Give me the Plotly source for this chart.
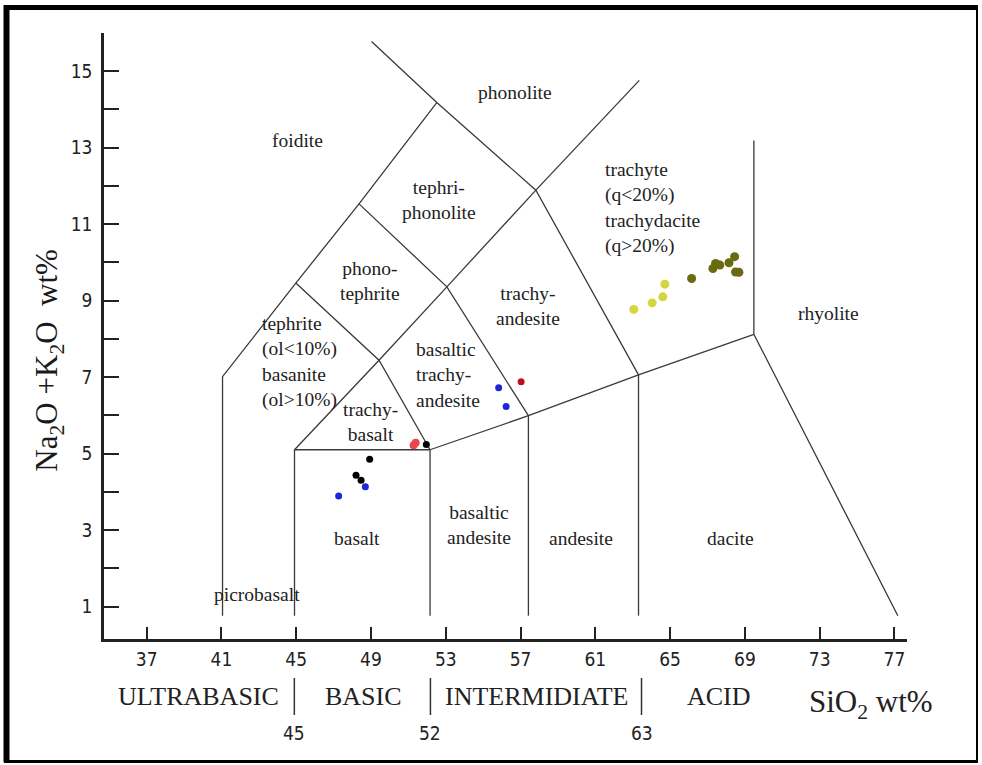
import plotly.graph_objects as go

# ---------------- data ----------------
sio2_black = [51.96, 48.93, 48.20, 48.47]
alk_black = [5.24, 4.85, 4.43, 4.30]
sio2_blue = [55.83, 56.23, 48.70, 47.27]
alk_blue = [6.72, 6.23, 4.13, 3.89]
sio2_red_light = [51.28, 51.39]
alk_red_light = [5.22, 5.28]
sio2_red_dark = [57.03]
alk_red_dark = [6.88]
sio2_yellow = [63.06, 64.04, 64.61, 64.72]
alk_yellow = [8.77, 8.94, 9.10, 9.43]
sio2_olive = [66.15, 67.29, 67.43, 67.66, 68.15, 68.45, 68.50, 68.68]
alk_olive = [9.58, 9.84, 9.97, 9.93, 9.99, 10.15, 9.75, 9.74]

# TAS field boundaries (SiO2, Na2O+K2O) polylines
boundary_lines = [
    [(41.06, 0.76), (41.06, 7.01), (44.98, 9.46), (48.36, 11.53), (52.52, 14.18)],
    [(49.03, 15.78), (52.52, 14.18), (57.82, 11.89), (63.31, 7.06)],
    [(57.82, 11.89), (63.35, 14.76)],
    [(48.36, 11.53), (53.06, 9.36), (57.42, 5.99)],
    [(53.06, 9.36), (57.82, 11.89)],
    [(44.98, 9.46), (49.43, 7.44), (52.16, 5.10)],
    [(53.06, 9.36), (49.43, 7.44), (44.91, 5.10)],
    [(44.91, 0.76), (44.91, 5.10), (52.16, 5.10), (52.16, 0.76)],
    [(52.16, 5.10), (57.42, 5.99), (63.31, 7.06), (69.48, 8.12)],
    [(57.42, 0.76), (57.42, 5.99)],
    [(63.31, 0.76), (63.31, 7.06)],
    [(69.48, 13.19), (69.48, 8.12), (77.18, 0.76)],
]

# field labels: (text, x, y, anchor)
field_labels = [
    ("foidite", 45.08, 13.2, "center"),
    ("phonolite", 56.71, 14.44, "center"),
    ("tephri-<br>phonolite", 52.62, 11.63, "center"),
    ("phono-<br>tephrite", 48.97, 9.52, "center"),
    ("tephrite<br>(ol&lt;10%)<br>basanite<br>(ol&gt;10%)", 43.07, 7.39, "left"),
    ("trachy-<br>basalt", 48.97, 5.83, "center"),
    ("basaltic<br>trachy-<br>andesite", 51.28, 7.06, "left"),
    ("trachy-<br>andesite", 57.38, 8.85, "center"),
    ("trachyte<br>(q&lt;20%)<br>trachydacite<br>(q&gt;20%)", 61.41, 11.43, "left"),
    ("rhyolite", 73.47, 8.67, "center"),
    ("basalt", 48.26, 2.79, "center"),
    ("basaltic<br>andesite", 54.80, 3.13, "center"),
    ("andesite", 60.23, 2.79, "center"),
    ("dacite", 68.21, 2.79, "center"),
    ("picrobasalt", 42.9, 1.32, "center"),
]

x_ticks = [37, 41, 45, 49, 53, 57, 61, 65, 69, 73, 77]
y_ticks = [1, 3, 5, 7, 9, 11, 13, 15]
y_minor_ticks = [2, 4, 6, 8, 10, 12, 14, 16]

class_names = ["ULTRABASIC", "BASIC", "INTERMIDIATE", "ACID"]
class_x = [39.76, 48.59, 57.85, 67.59]
class_bounds = [44.9, 52.18, 63.47]
class_bound_labels = ["45", "52", "63"]

SERIF = "Liberation Serif, Times New Roman, serif"
SANSC = "DejaVu Sans Condensed, DejaVu Sans, sans-serif"

fig = go.Figure()

bx, by = [], []
for line in boundary_lines:
    for (xv, yv) in line:
        bx.append(xv)
        by.append(yv)
    bx.append(None)
    by.append(None)
fig.add_trace(go.Scatter(x=bx, y=by, mode="lines",
                         line=dict(color="#3a3a3a", width=1.3),
                         hoverinfo="skip", showlegend=False))

series = [
    (sio2_yellow, alk_yellow, "#d3d641", 9),
    (sio2_olive, alk_olive, "#6a6a10", 9),
    (sio2_black, alk_black, "#000000", 7),
    (sio2_blue, alk_blue, "#1f24d8", 7),
    (sio2_red_light, alk_red_light, "#e8474c", 8),
    (sio2_red_dark, alk_red_dark, "#c0101e", 7),
]
for xs, ys, col, sz in series:
    fig.add_trace(go.Scatter(x=xs, y=ys, mode="markers",
                             marker=dict(color=col, size=sz, line=dict(width=0)),
                             showlegend=False))

annotations = []
for text, xv, yv, anc in field_labels:
    annotations.append(dict(text=text, x=xv, y=yv, xref="x", yref="y",
                            showarrow=False, xanchor=anc, yanchor="middle",
                            align=anc if anc != "center" else "center",
                            font=dict(family=SERIF, size=19.5, color="#222222")))

for name, xv in zip(class_names, class_x):
    annotations.append(dict(text=name, x=xv, y=-0.0957, xref="x", yref="paper",
                            showarrow=False, xanchor="center", yanchor="middle",
                            font=dict(family=SERIF, size=26, color="#222222")))
for lab, xv in zip(class_bound_labels, class_bounds):
    annotations.append(dict(text=lab, x=xv, y=-0.155, xref="x", yref="paper",
                            showarrow=False, xanchor="center", yanchor="middle",
                            font=dict(family=SANSC, size=19, color="#222222")))

annotations.append(dict(text="SiO<sub>2</sub> wt%", x=75.73, y=-0.108, xref="x", yref="paper",
                        showarrow=False, xanchor="center", yanchor="middle",
                        font=dict(family=SERIF, size=31, color="#222222")))
annotations.append(dict(text="Na<sub>2</sub>O +K<sub>2</sub>O  wt%", x=-0.068, y=0.46,
                        xref="paper", yref="paper", textangle=-90,
                        showarrow=False, xanchor="center", yanchor="middle",
                        font=dict(family=SERIF, size=31, color="#1a1a1a")))

shapes = []
for xv in class_bounds:
    shapes.append(dict(type="line", xref="x", yref="paper", x0=xv, x1=xv,
                       y0=-0.0643, y1=-0.1254, line=dict(color="#333333", width=1.5)))

# outer frame of the picture
def px2xp(px):
    return (px - 104) / 803.0

def py2yp(py):
    return (639 - py) / 606.0

frame = [
    (6.5, 5, 6.5, 762, 6),
    (4, 7.5, 978, 7.5, 5),
    (4, 761.5, 978, 761.5, 3),
    (977, 5, 977, 762, 2),
]
for x0, y0, x1, y1, w in frame:
    shapes.append(dict(type="line", xref="paper", yref="paper",
                       x0=px2xp(x0), y0=py2yp(y0), x1=px2xp(x1), y1=py2yp(y1),
                       line=dict(color="#000000", width=w)))

fig.update_layout(
    width=982, height=765,
    margin=dict(l=104, r=75, t=33, b=126),
    paper_bgcolor="white", plot_bgcolor="white",
    annotations=annotations, shapes=shapes,
    xaxis=dict(range=[34.72, 77.67], tickvals=x_ticks, ticks="inside", ticklen=12,
               tickwidth=2, tickcolor="#222222", showline=True, linewidth=2.5,
               linecolor="#222222", showgrid=False, zeroline=False,
               tickfont=dict(family=SANSC, size=19, color="#222222"),
               ticklabelstandoff=1),
    yaxis=dict(range=[0.15, 16.0], tickvals=y_ticks,
               ticks="inside", ticklen=15, tickwidth=2, tickcolor="#222222",
               minor=dict(tickvals=y_minor_ticks, ticks="inside", ticklen=15,
                          tickwidth=2, tickcolor="#222222", showgrid=False),
               showline=True, linewidth=2.5, linecolor="#222222",
               showgrid=False, zeroline=False,
               tickfont=dict(family=SANSC, size=19, color="#222222"),
               ticklabelstandoff=5),
)

fig.write_html("out.html", config={"displayModeBar": False},
               post_script="document.body.style.margin='0';document.body.style.overflow='hidden';")
